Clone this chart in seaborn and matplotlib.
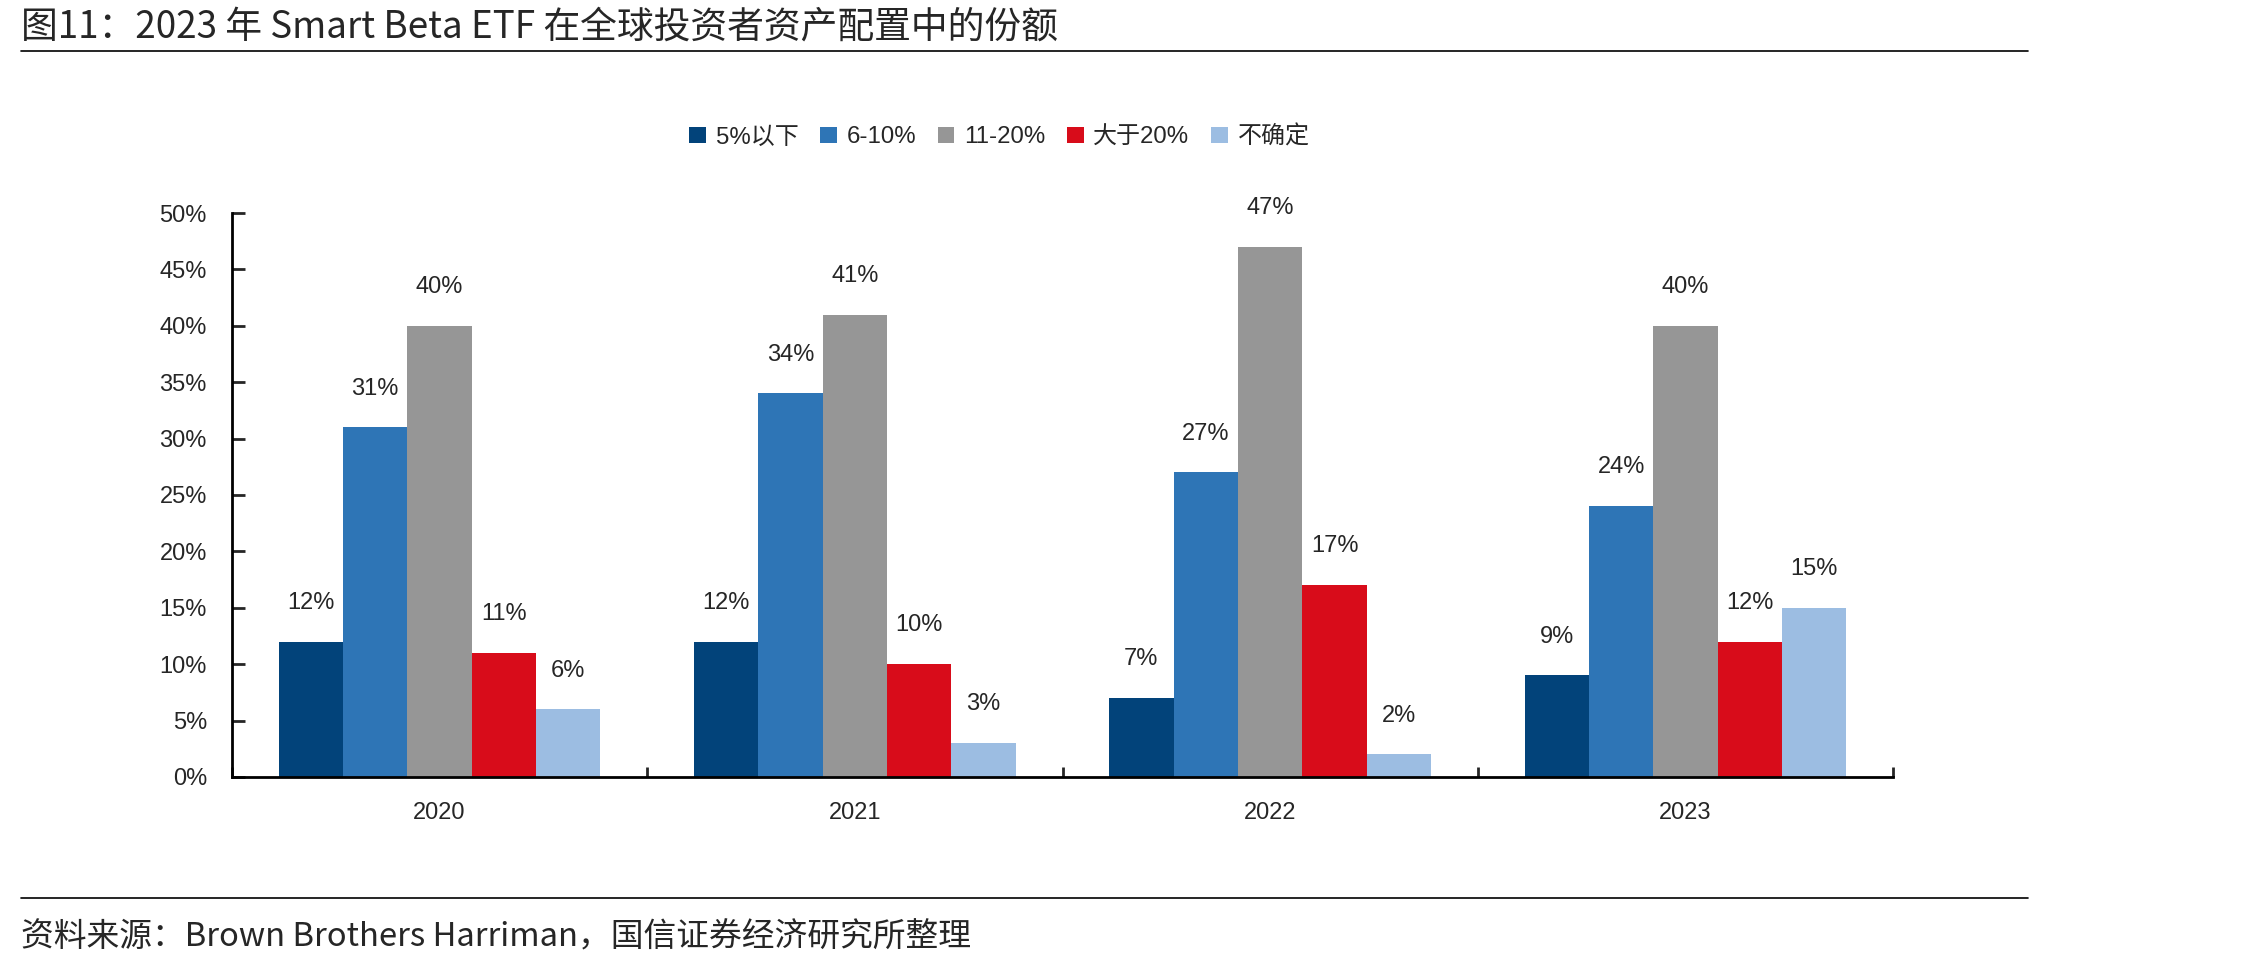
import numpy as np
import pandas as pd
import matplotlib
matplotlib.use("Agg")
import matplotlib.pyplot as plt
import seaborn as sns
from matplotlib.lines import Line2D
from matplotlib.ticker import FixedLocator, FuncFormatter

# data
years = ["2020", "2021", "2022", "2023"]
groups = ["5%以下", "6-10%", "11-20%", "大于20%", "不确定"]
below_5 = [12, 12, 7, 9]
from_6_to_10 = [31, 34, 27, 24]
from_11_to_20 = [40, 41, 47, 40]
above_20 = [11, 10, 17, 12]
uncertain = [6, 3, 2, 15]
colors = ["#02437A", "#2E75B6", "#969696", "#D80C1A", "#9CBDE2"]

title = "图11：2023 年 Smart Beta ETF 在全球投资者资产配置中的份额"
source = "资料来源：Brown Brothers Harriman，国信证券经济研究所整理"

df = pd.DataFrame({
    "year": years * len(groups),
    "group": np.repeat(groups, len(years)),
    "share": below_5 + from_6_to_10 + from_11_to_20 + above_20 + uncertain,
})

sns.set_style("white")
plt.rcParams["font.family"] = ["Liberation Sans", "Noto Sans CJK SC"]
cjk = ["Noto Sans CJK SC", "DejaVu Sans"]

fig = plt.figure(figsize=(22.43, 9.66), dpi=100)
ax = fig.add_axes([0.1034, 0.1957, 0.7406, 0.5838])

sns.barplot(data=df, x="year", y="share", hue="group", hue_order=groups,
            palette=colors, width=0.775, gap=0, saturation=1, linewidth=0,
            ax=ax)

for cont in ax.containers:
    ax.bar_label(cont, fmt="%.0f%%", padding=20, fontsize=17)

# legend on top
sns.move_legend(ax, "center", bbox_to_anchor=(0.462, 1.135), ncol=5,
                frameon=False, title=None, fontsize=17.3, handlelength=0.7,
                handleheight=0.7, columnspacing=0.9, handletextpad=0.4)

ax.set_ylim(0, 50)
ax.set_xlim(-0.5, 3.5)
ax.set_yticks(range(0, 51, 5))
ax.yaxis.set_major_formatter(FuncFormatter(lambda v, p: f"{v:.0f}%"))
ax.set_xlabel("")
ax.set_ylabel("")

for s in ["top", "right"]:
    ax.spines[s].set_visible(False)
for s in ["left", "bottom"]:
    ax.spines[s].set_color("black")
    ax.spines[s].set_linewidth(2)

ax.tick_params(axis="y", direction="in", length=9, width=2, pad=18,
               labelsize=17, left=True)
ax.tick_params(axis="x", which="major", length=0, pad=18, labelsize=17)
ax.xaxis.set_minor_locator(FixedLocator([-0.5, 0.5, 1.5, 2.5, 3.5]))
ax.tick_params(axis="x", which="minor", direction="in", length=7, width=2,
               bottom=True)

# title, separators and source note
fig.text(0.0094, 0.972, title, fontsize=26.5, family=cjk, ha="left", va="center")
fig.add_artist(Line2D([0.0094, 0.904], [0.9467, 0.9467],
                      transform=fig.transFigure, color="black", lw=1.2))
fig.add_artist(Line2D([0.0094, 0.904], [0.0704, 0.0704],
                      transform=fig.transFigure, color="black", lw=1.2))
fig.text(0.0094, 0.030, source, fontsize=23.6, family=cjk, ha="left", va="center")

fig.savefig("out.png", dpi=100)
plt.close("all")
